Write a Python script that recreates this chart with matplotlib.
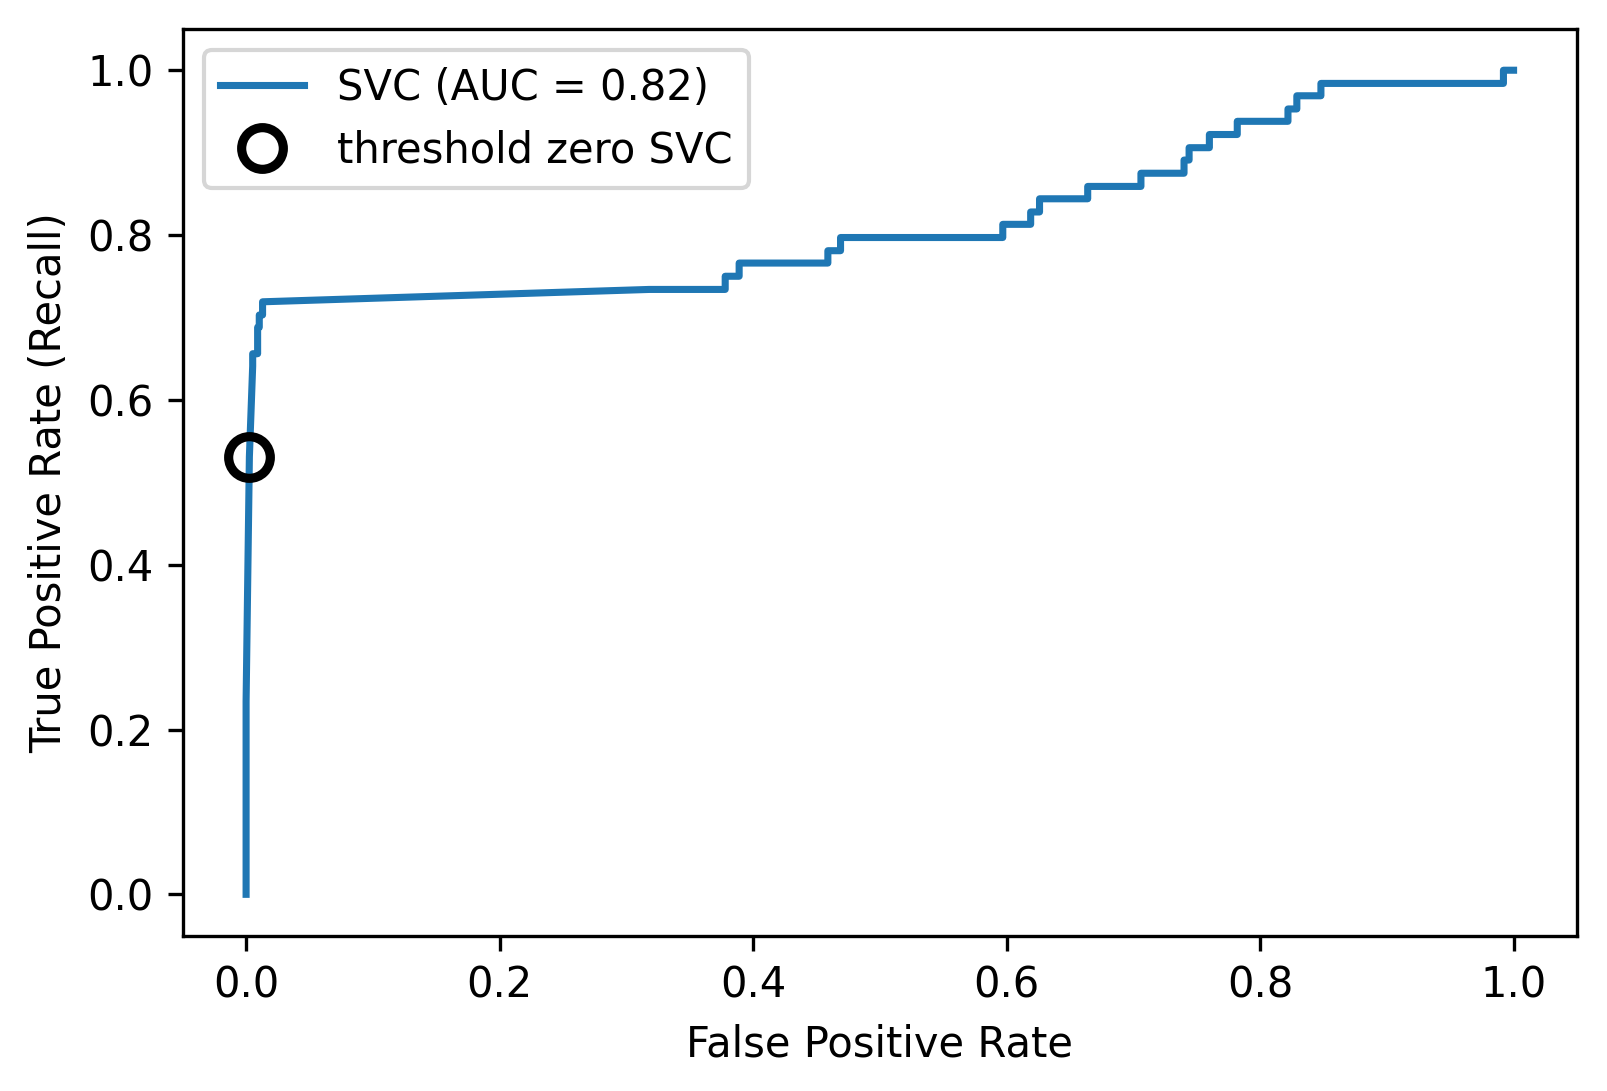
import numpy as np
import matplotlib
matplotlib.use("Agg")
import matplotlib.pyplot as plt

# ROC curve vertices (SVC)
fpr = [0.0, 0.0, 0.0026, 0.0052, 0.0052, 0.0091, 0.0091, 0.0104, 0.0104, 0.0130, 0.0130,
       0.318, 0.378, 0.378, 0.389, 0.389, 0.459, 0.459, 0.469, 0.469, 0.597, 0.597,
       0.619, 0.619, 0.626, 0.626, 0.664, 0.664, 0.706, 0.706, 0.740, 0.740, 0.744, 0.744,
       0.760, 0.760, 0.782, 0.782, 0.822, 0.822, 0.829, 0.829, 0.848, 0.848, 0.992, 0.992, 1.0]
tpr = [0.0, 0.234, 0.531, 0.641, 0.656, 0.656, 0.688, 0.688, 0.703, 0.703, 0.719,
       0.734, 0.734, 0.750, 0.750, 0.766, 0.766, 0.781, 0.781, 0.797, 0.797, 0.813,
       0.813, 0.828, 0.828, 0.844, 0.844, 0.859, 0.859, 0.875, 0.875, 0.891, 0.891, 0.906,
       0.906, 0.922, 0.922, 0.938, 0.938, 0.953, 0.953, 0.969, 0.969, 0.984, 0.984, 1.0, 1.0]

# point where decision threshold is zero
zero_fpr = 0.0026
zero_tpr = 0.531

auc_label = "SVC (AUC = 0.82)"
zero_label = "threshold zero SVC"

fig = plt.figure(figsize=(1607 / 300, 1091 / 300), dpi=300)
ax = fig.add_subplot(111)
fig.subplots_adjust(left=0.1137, right=0.9813, bottom=0.1425, top=0.9734)

ax.plot(fpr, tpr, lw=1.7, label=auc_label)
ax.plot(zero_fpr, zero_tpr, 'o', markersize=10, label=zero_label,
        fillstyle="none", c='k', mew=2.2)

ax.set_xlabel("False Positive Rate")
ax.set_ylabel("True Positive Rate (Recall)")
ax.legend(loc="upper left")

fig.savefig("out.png", dpi=300)
